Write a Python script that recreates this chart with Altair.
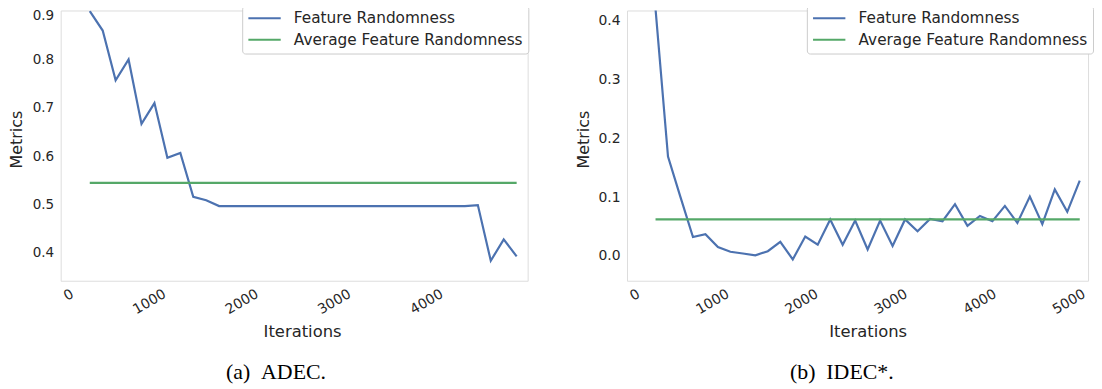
import altair as alt
import pandas as pd

# ---------------- data ----------------
iters_left = [175, 315, 455, 595, 735, 875, 1015, 1155, 1295, 1435, 1575, 1715,
              1855, 1995, 2135, 2275, 2415, 2555, 2695, 2835, 2975, 3115, 3255,
              3395, 3535, 3675, 3815, 3955, 4095, 4235, 4375, 4515, 4655, 4795]
fr_left = [0.900, 0.860, 0.757, 0.800, 0.667, 0.710, 0.597, 0.607, 0.516, 0.509,
           0.497, 0.497, 0.497, 0.497, 0.497, 0.497, 0.497, 0.497, 0.497, 0.497,
           0.497, 0.497, 0.497, 0.497, 0.497, 0.497, 0.497, 0.497, 0.497, 0.497,
           0.499, 0.384, 0.428, 0.393]
avg_left = 0.545

iters_right = [175, 315, 455, 595, 735, 875, 1015, 1155, 1295, 1435, 1575, 1715,
               1855, 1995, 2135, 2275, 2415, 2555, 2695, 2835, 2975, 3115, 3255,
               3395, 3535, 3675, 3815, 3955, 4095, 4235, 4375, 4515, 4655, 4795,
               4935]
fr_right = [0.420, 0.169, 0.100, 0.032, 0.037, 0.015, 0.007, 0.004, 0.001, 0.008,
            0.024, -0.006, 0.033, 0.019, 0.062, 0.019, 0.060, 0.011, 0.060, 0.017,
            0.062, 0.042, 0.063, 0.059, 0.088, 0.051, 0.068, 0.059, 0.085, 0.056,
            0.101, 0.054, 0.113, 0.075, 0.128]
avg_right = 0.062

series_names = ["Feature Randomness", "Average Feature Randomness"]
series_colors = ["#4C72B0", "#55A868"]

xticks_left = [0, 1000, 2000, 3000, 4000]
xticks_right = [0, 1000, 2000, 3000, 4000, 5000]
yticks_left = [0.4, 0.5, 0.6, 0.7, 0.8, 0.9]
yticks_right = [0.0, 0.1, 0.2, 0.3, 0.4]

captions = ["(a)\u2002ADEC.", "(b)\u2002IDEC*."]

FONT = "DejaVu Sans"
TXT = "#262626"


def make_df(iters, vals, avg):
    rows = []
    for it, v in zip(iters, vals):
        rows.append({"Iterations": it, "Metrics": v, "series": series_names[0]})
    for it in iters:
        rows.append({"Iterations": it, "Metrics": avg, "series": series_names[1]})
    return pd.DataFrame(rows)


def panel(df, xdom, ydom, xt, yt, width, caption, cap_dx, legend_x,
          ytick_size, title_x, top_label_shift):
    xenc = alt.X("Iterations:Q",
                 scale=alt.Scale(domain=xdom, nice=False, zero=False),
                 axis=alt.Axis(values=xt, format="d", grid=False, domain=False,
                               ticks=False, tickSize=0, labelAngle=330,
                               labelAlign="right", labelBaseline="top",
                               labelPadding=6, labelOffset=-5,
                               labelFont=FONT, labelFontSize=14, labelColor=TXT,
                               title="Iterations", titleFont=FONT,
                               titleFontSize=16.5, titleFontWeight="normal",
                               titleColor=TXT, titleX=title_x, titleY=56.5,
                               titleAlign="center", titleBaseline="alphabetic"))
    yenc = alt.Y("Metrics:Q",
                 scale=alt.Scale(domain=ydom, nice=False, zero=False),
                 axis=alt.Axis(values=yt, format=".1f", grid=False, domain=False,
                               ticks=False, tickSize=0, labelPadding=7,
                               labelOffset={"condition": {
                                   "test": f"datum.value >= {yt[-1] - 0.001}",
                                   "value": top_label_shift}, "value": 0},
                               labelFont=FONT, labelFontSize=ytick_size,
                               labelColor=TXT, title="Metrics", titleFont=FONT,
                               titleFontSize=16, titleFontWeight="normal",
                               titleColor=TXT, titleX=-44, titleY=129.5,
                               titleAngle=270, titleAlign="center",
                               titleBaseline="middle"))
    cenc = alt.Color("series:N",
                     scale=alt.Scale(domain=series_names, range=series_colors),
                     legend=alt.Legend(title=None, orient="none",
                                       legendX=legend_x, legendY=-4.7,
                                       symbolType="stroke", symbolSize=1060,
                                       symbolStrokeWidth=2, clipHeight=15,
                                       labelFont=FONT, labelFontSize=15.4,
                                       labelColor=TXT, labelOffset=12,
                                       labelLimit=0, rowPadding=5.6, padding=5,
                                       fillColor="white", strokeColor="#cccccc",
                                       cornerRadius=3))
    base = alt.Chart(df)
    blue = base.transform_filter(alt.datum.series == series_names[0]).mark_line(
        strokeWidth=2.2, clip=True).encode(x=xenc, y=yenc, color=cenc)
    green = base.transform_filter(alt.datum.series == series_names[1]).mark_line(
        strokeWidth=2.2, clip=True).encode(x=xenc, y=yenc, color=cenc)
    return alt.layer(blue, green).properties(
        width=width, height=272,
        title=alt.TitleParams(text=caption, orient="bottom", anchor="middle",
                              font="Liberation Serif", fontSize=22,
                              fontWeight="normal", color="black", dx=cap_dx,
                              offset=22))


left = panel(make_df(iters_left, fr_left, avg_left), [-140, 4914],
             [0.3426, 0.9014], xticks_left, yticks_left, 470, captions[0],
             -18.3, 182.7, 13.6, 243, 4.8)
right = panel(make_df(iters_right, fr_right, avg_right), [-145, 5028],
              [-0.0423, 0.4174], xticks_right, yticks_right, 464, captions[1],
              -15.8, 181, 14, 242.2, 0)

chart = alt.hconcat(left, right, spacing=100, bounds="flush").resolve_scale(
    color="independent", x="independent", y="independent").resolve_legend(
    color="independent").properties(
    padding={"top": -4.7, "left": 0, "right": 0, "bottom": 0}
).configure_view(stroke="transparent").configure(background="white")

chart.save("out.html", embed_options={"renderer": "svg", "actions": False})
